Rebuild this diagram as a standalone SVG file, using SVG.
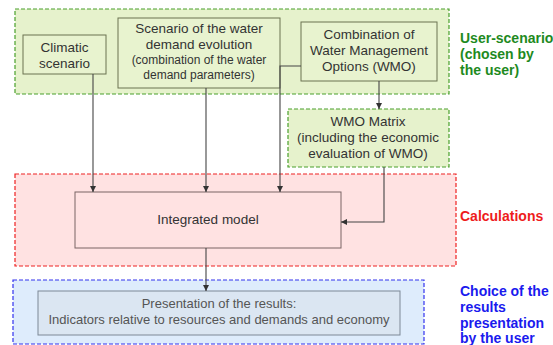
<svg xmlns="http://www.w3.org/2000/svg" width="553" height="345" viewBox="0 0 553 345">
<defs>
<style>
text{font-family:"Liberation Sans",Arial,sans-serif;text-anchor:middle}
.box{font-size:13.5px;fill:#333}
.sm{font-size:12px;fill:#333}
.pres{font-size:13px;fill:#555}
.lbl{font-size:14px;font-weight:bold;text-anchor:start}
.node{fill:#e8f3cf;stroke:#6b7350;stroke-width:1}
.conn{fill:none;stroke:#444;stroke-width:1.1}
</style>
<marker id="ah" viewBox="0 0 6 6" refX="6" refY="3" markerWidth="6" markerHeight="6" orient="auto" markerUnits="userSpaceOnUse"><path d="M0,0L6,3L0,6z" fill="#333"/></marker>
</defs>
<rect width="553" height="345" fill="#fff"/>
<g id="zone-user">
<rect x="15" y="9" width="434" height="85" fill="#e6f2cc" stroke="#4aa02c" stroke-width="1.2" stroke-dasharray="4,2"/>
<text class="lbl" x="460" y="43" fill="#1e8a1e">User-scenario</text>
<text class="lbl" x="460" y="59" fill="#1e8a1e">(chosen by</text>
<text class="lbl" x="460" y="75" fill="#1e8a1e">the user)</text>
</g>
<g id="zone-calc">
<rect x="15" y="174" width="441" height="92" fill="#ffe2e2" stroke="#ee2222" stroke-width="1.2" stroke-dasharray="4,2"/>
<text class="lbl" x="460" y="221" fill="#ee1c1c">Calculations</text>
</g>
<g id="zone-choice">
<rect x="13" y="280" width="411" height="64" fill="#deecfc" stroke="#3333ee" stroke-width="1.2" stroke-dasharray="4,2"/>
<text class="lbl" x="460" y="296" fill="#1a1aee">Choice of the</text>
<text class="lbl" x="460" y="312" fill="#1a1aee">results</text>
<text class="lbl" x="460" y="328" fill="#1a1aee">presentation</text>
<text class="lbl" x="460" y="343" fill="#1a1aee">by the user</text>
</g>
<g id="climatic">
<rect class="node" x="23" y="35" width="83" height="39"/>
<text class="box" x="64.5" y="52">Climatic</text>
<text class="box" x="64.5" y="68">scenario</text>
</g>
<g id="scenario">
<rect class="node" x="118" y="18" width="162" height="70"/>
<text class="box" x="199" y="33">Scenario of the water</text>
<text class="box" x="199" y="49">demand evolution</text>
<text class="sm" x="199" y="64">(combination of the water</text>
<text class="sm" x="199" y="79">demand parameters)</text>
</g>
<g id="combination">
<rect class="node" x="301" y="22" width="136" height="59"/>
<text class="box" x="369" y="39">Combination of</text>
<text class="box" x="369" y="55">Water Management</text>
<text class="box" x="369" y="71">Options (WMO)</text>
</g>
<g id="wmo-matrix">
<rect x="288" y="109" width="161" height="58" fill="#e6f2cc" stroke="#4aa02c" stroke-width="1.2" stroke-dasharray="4,2"/>
<text class="box" x="368" y="126">WMO Matrix</text>
<text class="box" x="368" y="142">(including the economic</text>
<text class="box" x="368" y="158">evaluation of WMO)</text>
</g>
<g id="integrated">
<rect x="75" y="192" width="266" height="56" fill="#ffe2e2" stroke="#7a6464" stroke-width="1"/>
<text class="box" x="208" y="224">Integrated model</text>
</g>
<g id="presentation">
<rect x="38" y="291" width="362" height="44" fill="#dbe6f2" stroke="#7d8896" stroke-width="1"/>
<text class="pres" x="219" y="308">Presentation of the results:</text>
<text class="pres" x="219" y="324">Indicators relative to resources and demands and economy</text>
</g>
<g id="connectors">
<path class="conn" d="M93,74V192" marker-end="url(#ah)"/>
<path class="conn" d="M206,88V192" marker-end="url(#ah)"/>
<path class="conn" d="M301,66H280V192" marker-end="url(#ah)"/>
<path class="conn" d="M379,81V109" marker-end="url(#ah)"/>
<path class="conn" d="M384,167V222H341" marker-end="url(#ah)"/>
<path class="conn" d="M206,248V291" marker-end="url(#ah)"/>
</g>
</svg>
